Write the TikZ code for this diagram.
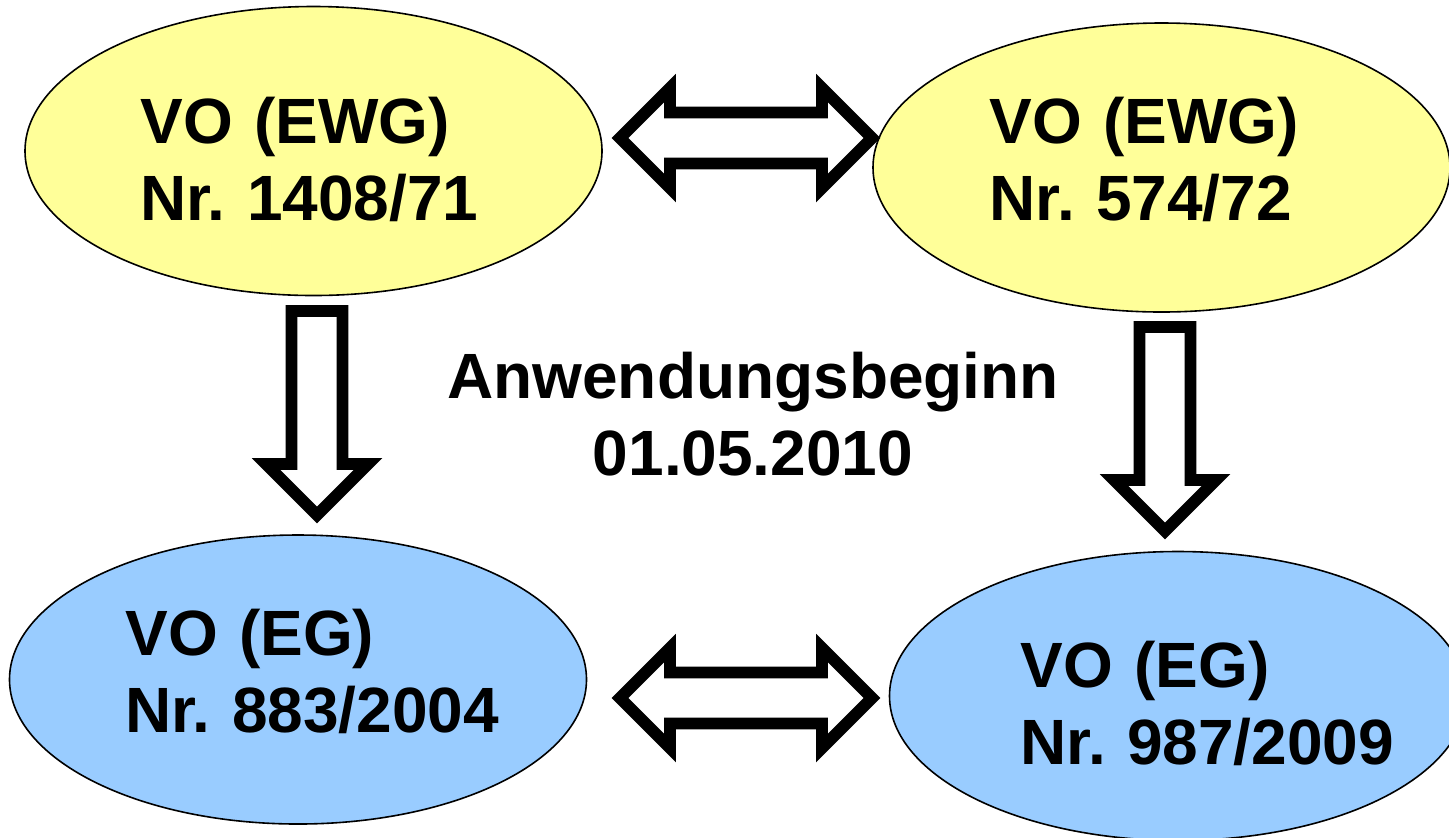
\documentclass[tikz,border=0pt]{standalone}
\usepackage{fontspec}
\setmainfont{Liberation Sans}
\usepackage{tikz}
\usetikzlibrary{shapes.geometric, positioning}
\definecolor{vogelb}{HTML}{FFFF99}
\definecolor{voblau}{HTML}{99CCFF}
\frenchspacing

\begin{document}
\begin{tikzpicture}[
  x=0.5pt, y=-0.5pt,
  oval/.style={ellipse, draw, line width=0.8pt, inner sep=0pt, minimum width=288.5pt, minimum height=144.5pt},
  votext/.style={anchor=base west, inner sep=0pt, text width=200pt, align=left, font=\fontsize{32}{38.5}\selectfont\bfseries},
  blockarrow/.style={draw, fill=white, line width=5.9pt, line join=miter}
]
\clip (0,0) rectangle (1449,837);

% alte Verordnungen (EWG)
\node[oval, fill=vogelb] (vo1408) at (313.5,151) {};
\node[oval, fill=vogelb] (vo574) at (1161.5,167.5) {};

% neue Verordnungen (EG)
\node[oval, fill=voblau] (vo883) at (298,679.5) {};
\node[oval, fill=voblau] (vo987) at (1178,696) {};

% Beschriftungen
\node[votext] (t1408) at (140,143) {VO (EWG)\\Nr. 1408/71};
\node[votext] (t574) at (989,143) {VO (EWG)\\Nr. 574/72};
\node[votext] (t883) at (125,655) {VO (EG)\\Nr. 883/2004};
\node[votext] (t987) at (1020,687) {VO (EG)\\Nr. 987/2009};
\node[votext, anchor=base, align=center, text width=320pt] (beginn) at (753,398) {Anwendungsbeginn\\01.05.2010};

% Pfeile
\coordinate (dp1) at (746,138);
\coordinate (dp2) at (746,698);
\coordinate (ab1) at (317,311);
\coordinate (ab2) at (1165,327);

\foreach \p in {dp1, dp2} {
  \draw[blockarrow, shift={(\p)}] (-126,0) -- (-76,-50) -- (-76,-25.5) -- (76,-25.5) -- (76,-50)
    -- (126,0) -- (76,50) -- (76,25.5) -- (-76,25.5) -- (-76,50) -- cycle;
}
\foreach \p in {ab1, ab2} {
  \draw[blockarrow, shift={(\p)}] (-25.5,0) -- (25.5,0) -- (25.5,153) -- (51,153)
    -- (0,204) -- (-51,153) -- (-25.5,153) -- cycle;
}

\end{tikzpicture}
\end{document}
